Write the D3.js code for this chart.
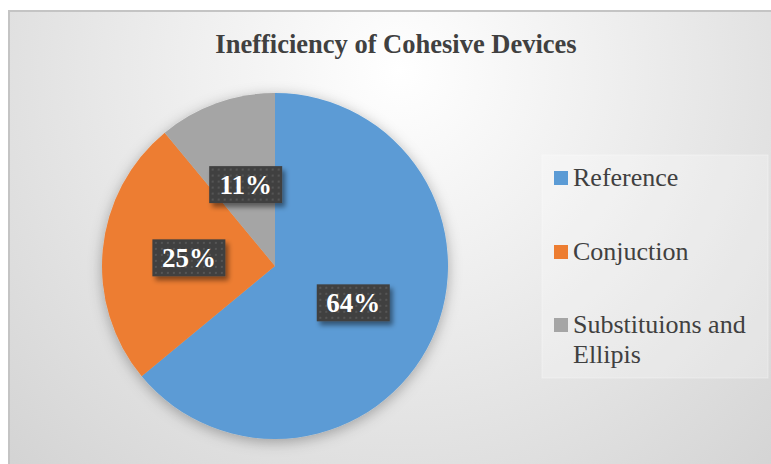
<!DOCTYPE html>
<html>
<head>
<meta charset="utf-8">
<script src="https://cdn.jsdelivr.net/npm/d3@7"></script>
<style>
  html, body { margin: 0; padding: 0; background: #ffffff; }
  svg { display: block; }
  .serif { font-family: "Liberation Serif", "Times New Roman", Tinos, serif; }
</style>
</head>
<body>
<script>
// Chart data
const categories = ["Reference", "Conjuction", "Substituions and Ellipis"];
const values = [64, 25, 11];
const colors = ["#5b9bd5", "#ed7d31", "#a5a5a5"];
const legendLines = [["Reference"], ["Conjuction"], ["Substituions and", "Ellipis"]];
const title = "Inefficiency of Cohesive Devices";

const W = 771, H = 464;
const svg = d3.select("body").append("svg").attr("width", W).attr("height", H);
const defs = svg.append("defs");

// Soft radial background of the chart area
const bg = defs.append("radialGradient").attr("id", "bgGrad")
  .attr("gradientUnits", "userSpaceOnUse")
  .attr("cx", 400).attr("cy", 70).attr("r", 560);
bg.append("stop").attr("offset", "0%").attr("stop-color", "#ffffff");
bg.append("stop").attr("offset", "35%").attr("stop-color", "#f0f0f0");
bg.append("stop").attr("offset", "100%").attr("stop-color", "#d3d3d3");

// Shadow under the pie
const pf = defs.append("filter").attr("id", "pieShadow")
  .attr("x", "-20%").attr("y", "-20%").attr("width", "140%").attr("height", "140%");
pf.append("feDropShadow").attr("dx", 0).attr("dy", 3).attr("stdDeviation", 7)
  .attr("flood-color", "#000").attr("flood-opacity", 0.3);

// Shadow under the data-label boxes
const lf = defs.append("filter").attr("id", "lblShadow")
  .attr("x", "-20%").attr("y", "-30%").attr("width", "150%").attr("height", "170%");
lf.append("feDropShadow").attr("dx", 3).attr("dy", 4).attr("stdDeviation", 2.5)
  .attr("flood-color", "#000").attr("flood-opacity", 0.45);

// Dotted fill for the data-label boxes
const pat = defs.append("pattern").attr("id", "dots")
  .attr("patternUnits", "userSpaceOnUse").attr("width", 6).attr("height", 6);
pat.append("rect").attr("width", 6).attr("height", 6).attr("fill", "#404040");
pat.append("rect").attr("x", 2).attr("y", 2).attr("width", 2).attr("height", 2).attr("fill", "#555555");

// Chart area with border
svg.append("rect").attr("x", 0).attr("y", 0).attr("width", W).attr("height", H).attr("fill", "#ffffff");
svg.append("rect").attr("x", 9).attr("y", 11).attr("width", W).attr("height", H)
  .attr("fill", "url(#bgGrad)").attr("stroke", "#c4c4c4").attr("stroke-width", 2);

// Title
svg.append("text")
  .attr("class", "serif")
  .attr("x", 396).attr("y", 53)
  .attr("text-anchor", "middle")
  .attr("font-weight", "bold").attr("font-size", 26.5)
  .attr("fill", "#404040")
  .text(title);

// Pie
const cx = 275, cy = 266, R = 173;
const pie = d3.pie().sort(null).value(d => d.v);
const data = categories.map((c, i) => ({ c, v: values[i], color: colors[i] }));
const arcs = pie(data);
const arc = d3.arc().innerRadius(0).outerRadius(R);

const g = svg.append("g").attr("transform", `translate(${cx},${cy})`);
g.append("g").attr("filter", "url(#pieShadow)")
  .selectAll("path").data(arcs).join("path")
  .attr("d", arc)
  .attr("fill", d => d.data.color);

// Data labels at slice centroids
const total = d3.sum(values);
const boxW = 73, boxH = 37;
const lbl = g.selectAll("g.lbl").data(arcs).join("g")
  .attr("class", "lbl")
  .attr("transform", d => { const [x, y] = arc.centroid(d); return `translate(${x},${y})`; });
lbl.append("rect")
  .attr("x", -boxW / 2).attr("y", -boxH / 2)
  .attr("width", boxW).attr("height", boxH)
  .attr("fill", "url(#dots)")
  .attr("filter", "url(#lblShadow)");
lbl.append("text")
  .attr("class", "serif")
  .attr("text-anchor", "middle").attr("dy", "0.35em")
  .attr("font-weight", "bold").attr("font-size", 27)
  .attr("fill", "#ffffff")
  .text(d => Math.round(d.data.v / total * 100) + "%");

// Legend
const legend = svg.append("g");
legend.append("rect")
  .attr("x", 542).attr("y", 155).attr("width", 226).attr("height", 223)
  .attr("fill", "#ffffff").attr("fill-opacity", 0.25)
  .attr("stroke", "#ffffff").attr("stroke-opacity", 0.35);
const baselines = [186, 260, 333];
legendLines.forEach((lines, i) => {
  legend.append("rect")
    .attr("x", 554).attr("y", baselines[i] - 15).attr("width", 14).attr("height", 14)
    .attr("fill", colors[i]);
  const t = legend.append("text")
    .attr("class", "serif")
    .attr("x", 573).attr("y", baselines[i])
    .attr("font-size", 26).attr("fill", "#404040");
  lines.forEach((ln, j) => {
    t.append("tspan").attr("x", 573).attr("dy", j === 0 ? 0 : 30).text(ln);
  });
});
</script>
</body>
</html>
